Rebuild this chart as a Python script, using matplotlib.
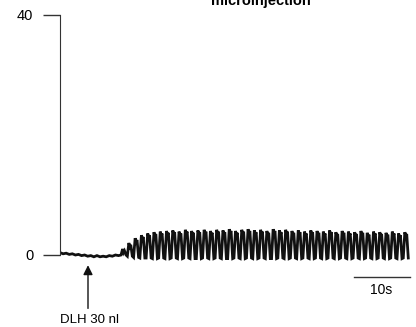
import numpy as np
import matplotlib.pyplot as plt

plt.rcParams['font.family'] = ['Liberation Sans', 'DejaVu Sans']

# baseline before the response (values, a ~0.55 s step)
base_vals = [0.4, 0.2, 0.3, 0.1, 0.2, 0.0, 0.1, -0.1, 0.0, -0.2, -0.1, -0.3,
             -0.1, -0.3, -0.2, -0.3, -0.1, -0.2, 0.0, -0.1]
base_step = 0.55

# oscillation: peak and trough of each cycle
osc_start = 10.9
osc_period = 1.12
peaks = [1.0, 2.0, 2.8, 3.3, 3.6, 3.8, 3.9, 4.0, 4.1, 3.9, 4.2, 4.0, 4.1, 4.2,
         4.0, 4.2, 4.1, 4.3, 4.0, 4.2, 4.3, 4.1, 4.2, 4.0, 4.3, 4.1, 4.2, 4.0,
         4.1, 3.9, 4.1, 4.0, 3.9, 4.1, 3.8, 4.0, 3.9, 3.8, 4.0, 3.7, 3.9, 3.8,
         3.7, 3.9, 3.6, 3.8]
troughs = [0.0, -0.2, -0.4, -0.5, -0.5, -0.6, -0.5, -0.6, -0.5, -0.6, -0.5,
           -0.6, -0.6, -0.5, -0.6, -0.5, -0.6, -0.6, -0.5, -0.6, -0.5, -0.6,
           -0.5, -0.6, -0.6, -0.5, -0.6, -0.5, -0.6, -0.5, -0.6, -0.5, -0.6,
           -0.5, -0.6, -0.5, -0.6, -0.5, -0.6, -0.5, -0.6, -0.5, -0.6, -0.5,
           -0.6, -0.5]

# build the trace
t = list(np.arange(len(base_vals)) * base_step)
y = list(base_vals)
for i in range(len(peaks)):
    t0 = osc_start + i * osc_period
    t += [t0, t0 + 0.25 * osc_period, t0 + 0.4 * osc_period,
          t0 + 0.55 * osc_period, t0 + 0.8 * osc_period]
    y += [troughs[i], peaks[i], peaks[i] - 0.6, peaks[i] - 0.3, troughs[i]]

fig = plt.figure(figsize=(4.16, 3.27), dpi=100)
ax = fig.add_axes([60 / 416, 27 / 327, 352 / 416, 285 / 327])
ax.plot(t, y, color='#111111', lw=2.0, solid_joinstyle='miter')

ax.set_xlim(0, 62.86)
ax.set_ylim(-7.5, 40)
for s in ['top', 'right', 'bottom']:
    ax.spines[s].set_visible(False)
ax.spines['left'].set_bounds(0, 40)
ax.spines['left'].set_color('#333333')
ax.set_xticks([])
ax.set_yticks([0, 40])
ax.tick_params(axis='y', length=12.3, width=1, color='#333333', pad=7, labelsize=10.5)

# scale bar 10 s
ax.plot([52.5, 62.5], [-3.6, -3.6], color='#333333', lw=1, clip_on=False)
ax.text(57.3, -4.6, '10s', ha='center', va='top', fontsize=10)

# injection arrow
ax.annotate('', xy=(5.0, -1.7), xytext=(5.0, -8.9),
            arrowprops=dict(arrowstyle='-|>', color='#111111', lw=1,
                            mutation_scale=14, shrinkA=0, shrinkB=0),
            annotation_clip=False)
fig.text(89 / 416, 1 - 320 / 327, 'DLH 30 nl', ha='center', va='center', fontsize=9.5)

fig.text(261 / 416, 1 - 1 / 327, 'microinjection', ha='center', va='center',
         fontsize=10.5, fontweight='bold')

fig.savefig('out.png', dpi=100)
